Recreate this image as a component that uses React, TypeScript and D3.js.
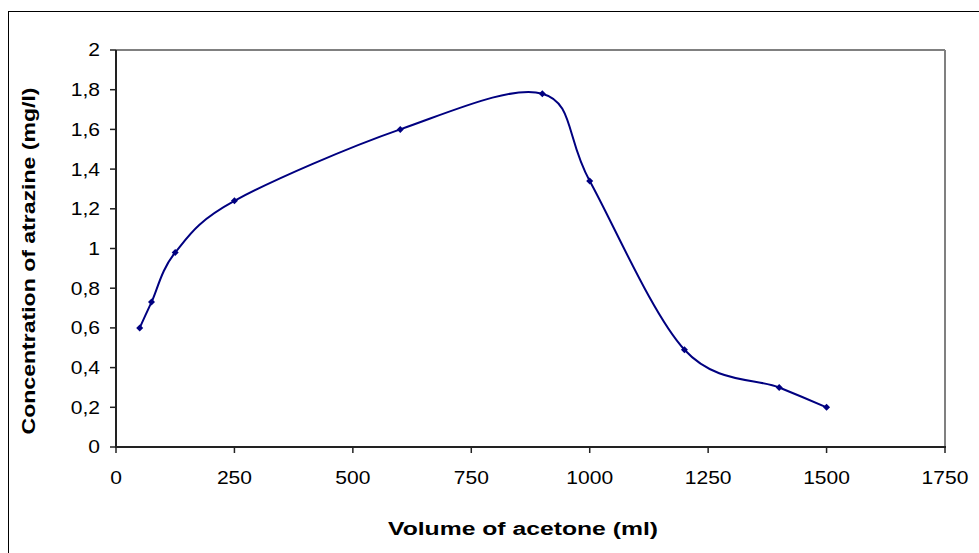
import React from "react";
import * as d3 from "d3";

const volumes = [50, 75, 125, 250, 600, 900, 1000, 1200, 1400, 1500];
const concentrations = [0.6, 0.73, 0.98, 1.24, 1.6, 1.78, 1.34, 0.49, 0.3, 0.2];
const xTicks = [0, 250, 500, 750, 1000, 1250, 1500, 1750];
const yTicks = [0, 0.2, 0.4, 0.6, 0.8, 1, 1.2, 1.4, 1.6, 1.8, 2];
const xTitle = "Volume of acetone (ml)";
const yTitle = "Concentration of atrazine (mg/l)";

const W = 979;
const H = 553;
const L = 116, R = 945, T = 50, B = 447;

export default function App() {
  const x = d3.scaleLinear().domain([0, 1750]).range([L, R]);
  const y = d3.scaleLinear().domain([0, 2]).range([B, T]);
  const pts = volumes.map((v, i) => [v, concentrations[i]] as [number, number]);
  const line = d3
    .line<[number, number]>()
    .x((d) => x(d[0]))
    .y((d) => y(d[1]))
    .curve(d3.curveCardinal.tension(0));
  const fmt = (v: number) => String(v).replace(".", ",");
  const font = "'Liberation Sans', Arial, sans-serif";
  return (
    <svg
      width={W}
      height={H}
      style={{ position: "absolute", left: 0, top: 0, background: "#fff" }}
      fontFamily={font}
    >
      <rect x={0} y={0} width={W} height={H} fill="#fff" />
      <rect x={8.5} y={11.5} width={W + 10} height={H + 10} fill="none" stroke="#000" strokeWidth={1} />
      <line x1={L} x2={R} y1={T} y2={T} stroke="#808080" strokeWidth={2} />
      <line x1={R} x2={R} y1={T} y2={B} stroke="#808080" strokeWidth={2} />
      <line x1={L} x2={L} y1={T} y2={B} stroke="#222" strokeWidth={2} />
      <line x1={L - 1} x2={R + 1} y1={B} y2={B} stroke="#222" strokeWidth={2} />
      {yTicks.map((t) => (
        <g key={"y" + t}>
          <line x1={L - 6} x2={L} y1={y(t)} y2={y(t)} stroke="#222" strokeWidth={1.5} />
          <text
            transform={`translate(100,${y(t)}) scale(1.17,1)`}
            textAnchor="end"
            dominantBaseline="central"
            fontSize={18}
            fill="#000"
          >
            {fmt(t)}
          </text>
        </g>
      ))}
      {xTicks.map((t) => (
        <g key={"x" + t}>
          <line x1={x(t)} x2={x(t)} y1={B} y2={B + 6} stroke="#222" strokeWidth={1.5} />
          <text
            transform={`translate(${x(t)},${478}) scale(1.17,1)`}
            textAnchor="middle"
            dominantBaseline="central"
            fontSize={18}
            fill="#000"
          >
            {fmt(t)}
          </text>
        </g>
      ))}
      <path d={line(pts) || ""} fill="none" stroke="#000080" strokeWidth={2} />
      {pts.map((p, i) => {
        const cx = x(p[0]);
        const cy = y(p[1]);
        return (
          <path
            key={"m" + i}
            d={`M${cx},${cy - 3.5}L${cx + 3.5},${cy}L${cx},${cy + 3.5}L${cx - 3.5},${cy}Z`}
            fill="#000080"
          />
        );
      })}
      <text
        x={523}
        y={529}
        textAnchor="middle"
        dominantBaseline="central"
        fontSize={18}
        fontWeight="bold"
        textLength={270}
        lengthAdjust="spacingAndGlyphs"
        fill="#000"
      >
        {xTitle}
      </text>
      <text
        transform={`translate(29,261) rotate(-90)`}
        textAnchor="middle"
        dominantBaseline="central"
        fontSize={18}
        fontWeight="bold"
        textLength={347}
        lengthAdjust="spacingAndGlyphs"
        fill="#000"
      >
        {yTitle}
      </text>
    </svg>
  );
}
